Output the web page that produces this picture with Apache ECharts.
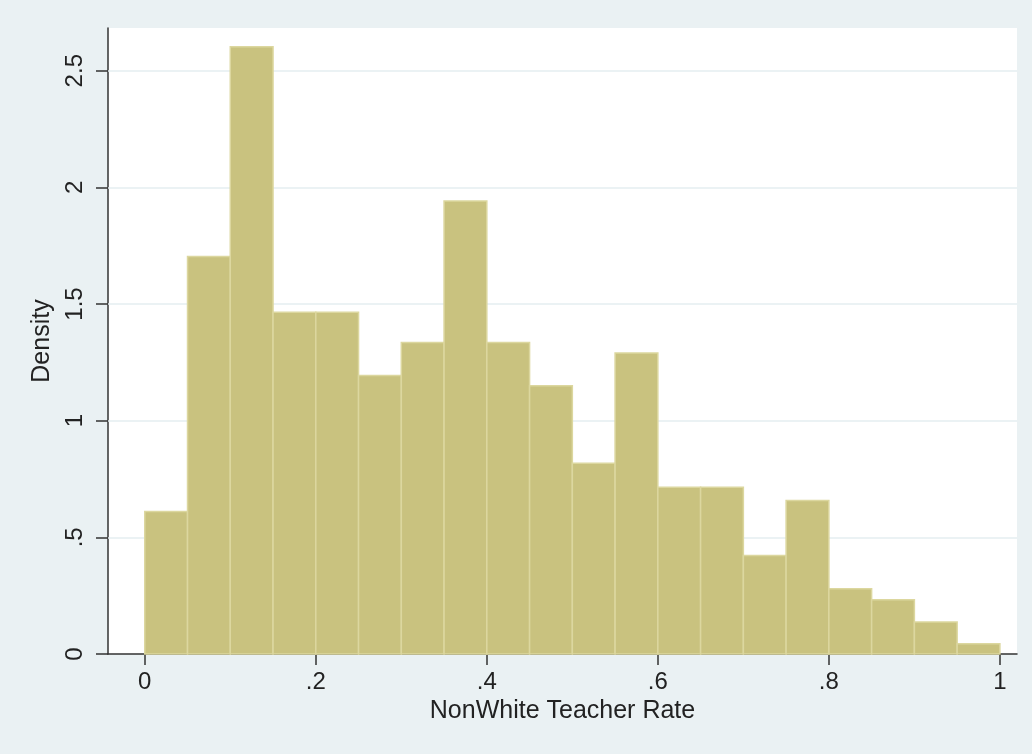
<!DOCTYPE html>
<html>
<head>
<meta charset="utf-8">
<script src="https://cdn.jsdelivr.net/npm/echarts@6/dist/echarts.min.js"></script>
<style>
html,body{margin:0;padding:0;background:#EAF1F3;}
#c{width:1032px;height:754px;}
</style>
</head>
<body>
<div id="c"></div>
<script>
// bin edges (NonWhite Teacher Rate)
const binStarts = [0, 0.05, 0.1, 0.15, 0.2, 0.25, 0.3, 0.35, 0.4, 0.45, 0.5, 0.55, 0.6, 0.65, 0.7, 0.75, 0.8, 0.85, 0.9, 0.95];
const binEnds   = [0.05, 0.1, 0.15, 0.2, 0.25, 0.3, 0.35, 0.4, 0.45, 0.5, 0.55, 0.6, 0.65, 0.7, 0.75, 0.8, 0.85, 0.9, 0.95, 1.0];
// density values
const density = [0.611, 1.704, 2.603, 1.465, 1.465, 1.194, 1.335, 1.942, 1.335, 1.150, 0.818, 1.290, 0.715, 0.715, 0.422, 0.658, 0.280, 0.233, 0.137, 0.044];
// tick values and labels
const xTickValues = [0, 0.2, 0.4, 0.6, 0.8, 1];
const xTickLabels = ['0', '.2', '.4', '.6', '.8', '1'];
const yTickValues = [0, 0.5, 1, 1.5, 2, 2.5];
const yTickLabels = ['0', '.5', '1', '1.5', '2', '2.5'];
const yGridValues = [0.5, 1, 1.5, 2, 2.5];

const data = binStarts.map((s, i) => [s, binEnds[i], density[i]]);
const fmt = (vals, labels) => v => {
  for (let i = 0; i < vals.length; i++) if (Math.abs(vals[i] - v) < 1e-9) return labels[i];
  return '';
};

const chart = echarts.init(document.getElementById('c'), null, {renderer: 'canvas'});
const txt = '#222222';
chart.setOption({
  backgroundColor: '#EAF1F3',
  animation: false,
  grid: {left: 108, right: 15, top: 28, bottom: 100, show: true, backgroundColor: '#FFFFFF', borderWidth: 0},
  xAxis: {
    type: 'value', min: -0.043, max: 1.020,
    name: 'NonWhite Teacher Rate', nameLocation: 'middle', nameGap: 43,
    nameTextStyle: {fontFamily: 'Liberation Sans', fontSize: 25, color: txt},
    axisLine: {show: true, onZero: false, lineStyle: {color: '#333333', width: 1.5}},
    axisTick: {show: true, length: 11, customValues: xTickValues, lineStyle: {color: '#333333', width: 1.5}},
    axisLabel: {customValues: xTickValues, formatter: fmt(xTickValues, xTickLabels), margin: 16,
      fontFamily: 'Liberation Sans', fontSize: 24, color: txt},
    splitLine: {show: false}
  },
  yAxis: {
    type: 'value', min: 0, max: 2.683,
    name: 'Density', nameLocation: 'middle', nameGap: 48, nameRotate: 90,
    nameTextStyle: {fontFamily: 'Liberation Sans', fontSize: 25, color: txt},
    axisLine: {show: true, onZero: false, lineStyle: {color: '#333333', width: 1.5}},
    axisTick: {show: true, length: 12, customValues: yTickValues, lineStyle: {color: '#333333', width: 1.5}},
    axisLabel: {customValues: yTickValues, formatter: fmt(yTickValues, yTickLabels), rotate: 90, margin: 21,
      fontFamily: 'Liberation Sans', fontSize: 24, color: txt},
    splitLine: {show: false}
  },
  series: [
    {
      type: 'line',
      data: [],
      z: 1,
      markLine: {
        z: 1,
        silent: true, symbol: 'none', label: {show: false},
        lineStyle: {color: '#E4EEF1', width: 1.5, type: 'solid'},
        data: yGridValues.map(v => ({yAxis: v}))
      }
    },
    {
      type: 'custom',
      data: data,
      encode: {x: [0, 1], y: 2},
      renderItem: function (params, api) {
        const x0 = api.value(0), x1 = api.value(1), y = api.value(2);
        const p0 = api.coord([x0, y]);
        const p1 = api.coord([x1, 0]);
        return {
          type: 'rect',
          shape: {x: p0[0], y: p0[1], width: p1[0] - p0[0], height: p1[1] - p0[1]},
          style: {fill: '#C9C27F', stroke: '#DCD79F', lineWidth: 1.5}
        };
      },
      z: 3
    }
  ]
});
</script>
</body>
</html>
